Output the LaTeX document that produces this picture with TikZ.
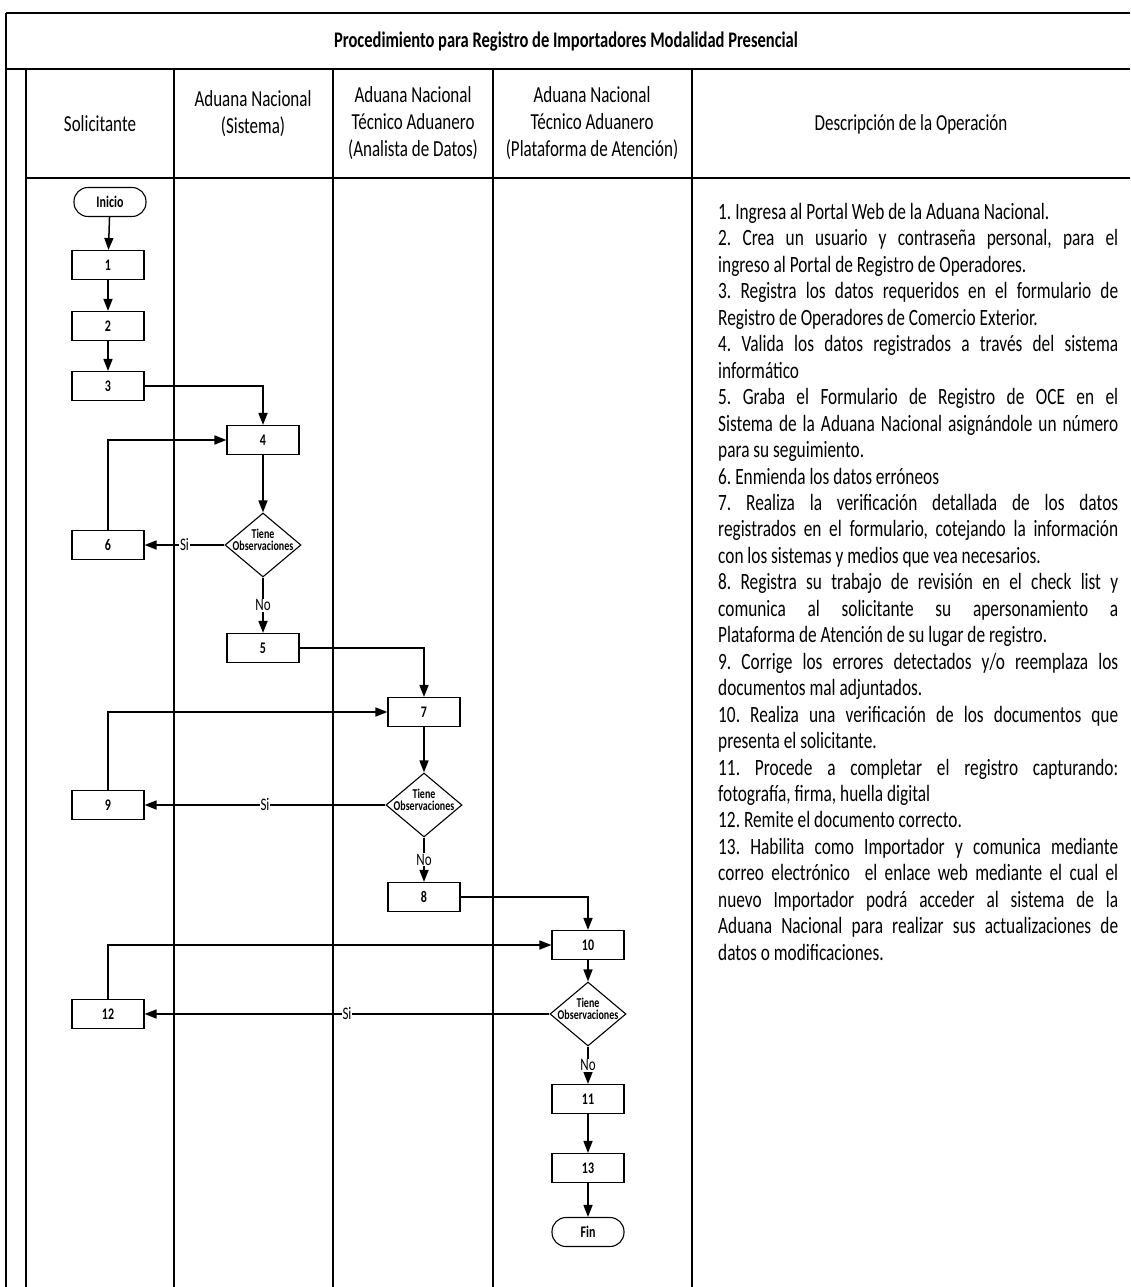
\documentclass[tikz,border=0pt]{standalone}
\usepackage{fontspec}
\setmainfont{Carlito}
\usepackage{graphicx}
\usetikzlibrary{shapes.geometric,arrows.meta}
\frenchspacing
\newcommand{\vs}[1]{\scalebox{1}[1.35]{#1}}
\newcommand{\djust}[1]{\noindent\makebox[\linewidth][s]{#1}\par}
\newcommand{\dlast}[1]{\noindent\makebox[\linewidth][l]{#1}\par}
\newcommand{\dtext}{\makebox[0pt]{\smash{\vs{\begin{tabular}{@{}c@{}}Tiene\\[-2pt]Observaciones\end{tabular}}}}}
\begin{document}
\begin{tikzpicture}[x=1pt,y=-1pt,
 grid/.style={line width=1.3pt},
 boxn/.style={draw,line width=1.1pt,minimum width=72pt,minimum height=29pt,inner sep=0pt,font=\fontsize{12}{14}\selectfont\bfseries},
 term/.style={boxn,rounded corners=14pt},
 dec/.style={draw,diamond,line width=1.1pt,minimum width=76pt,minimum height=64pt,inner sep=0pt,font=\fontsize{10}{11}\selectfont\bfseries},
 arr/.style={line width=1.5pt,-{Triangle[length=12pt,width=9pt]}},
 lbl/.style={fill=white,inner sep=1pt,font=\fontsize{13}{15}\selectfont},
 head/.style={inner sep=0pt,font=\fontsize{17}{20}\selectfont}]
\useasboundingbox (0,0) rectangle (1130,1287);
\fill[white] (0,0) rectangle (1130,1287);
% table
\draw[grid] (6,13) -- (1130,13);
\draw[grid] (6,13) -- (6,1287);
\draw[grid] (6,69) -- (1130,69);
\draw[grid] (26,69) -- (26,1287);
\draw[grid] (26,178) -- (1130,178);
\foreach \c in {174,333,493,692} \draw[grid] (\c,69) -- (\c,1287);
\node[inner sep=0pt] (title) at (566,42) {\vs{\fontsize{16.5}{20}\selectfont\bfseries Procedimiento para Registro de Importadores Modalidad Presencial}};
\node[head] (h1) at (100,124) {\vs{Solicitante}};
\node[head] (h2) at (253,115) {\vs{\begin{tabular}{@{}c@{}}Aduana Nacional\\(Sistema)\end{tabular}}};
\node[head] (h3) at (413,124) {\vs{\begin{tabular}{@{}c@{}}Aduana Nacional\\Técnico Aduanero\\(Analista de Datos)\end{tabular}}};
\node[head] (h4) at (592,124) {\vs{\begin{tabular}{@{}c@{}}Aduana Nacional\\Técnico Aduanero\\(Plataforma de Atención)\end{tabular}}};
\node[head] (h5) at (911,124) {\vs{Descripción de la Operación}};
% flow
\node[term] (start) at (110,202) {\vs{Inicio}};
\node[boxn] (b1) at (108,265) {\vs{1}};
\node[boxn] (b2) at (108,326) {\vs{2}};
\node[boxn] (b3) at (108,386) {\vs{3}};
\node[boxn] (b4) at (263,440) {\vs{4}};
\node[dec] (d1) at (263,545) {\dtext};
\node[boxn] (b6) at (108,545) {\vs{6}};
\node[boxn] (b5) at (263,648) {\vs{5}};
\node[boxn] (b7) at (424,712) {\vs{7}};
\node[dec] (d2) at (424,805) {\dtext};
\node[boxn] (b9) at (108,805) {\vs{9}};
\node[boxn] (b8) at (424,897) {\vs{8}};
\node[boxn] (b10) at (588,945) {\vs{10}};
\node[dec] (d3) at (588,1014) {\dtext};
\node[boxn] (b12) at (108,1014) {\vs{12}};
\node[boxn] (b11) at (588,1099) {\vs{11}};
\node[boxn] (b13) at (588,1168) {\vs{13}};
\node[term] (fin) at (588,1232) {\vs{Fin}};
\draw[arr] (start) -- (b1);
\draw[arr] (b1) -- (b2);
\draw[arr] (b2) -- (b3);
\draw[arr] (b3.east) -| (b4.north);
\draw[arr] (b6.north) |- (b4.west);
\draw[arr] (b4) -- (d1);
\draw[arr] (d1.west) -- node[lbl]{\vs{Si}} (b6.east);
\draw[arr] (d1.south) -- node[lbl]{\vs{No}} (b5.north);
\draw[arr] (b5.east) -| (b7.north);
\draw[arr] (b9.north) |- (b7.west);
\draw[arr] (b7) -- (d2);
\draw[arr] (d2.west) -- node[lbl]{\vs{Si}} (b9.east);
\draw[arr] (d2.south) -- node[lbl]{\vs{No}} (b8.north);
\draw[arr] (b8.east) -| (b10.north);
\draw[arr] (b12.north) |- (b10.west);
\draw[arr] (b10) -- (d3);
\draw[arr] (d3.west) -- node[lbl]{\vs{Si}} (b12.east);
\draw[arr] (d3.south) -- node[lbl]{\vs{No}} (b11.north);
\draw[arr] (b11) -- (b13);
\draw[arr] (b13) -- (fin);
% description
\node[anchor=north west,inner sep=0pt] (desc) at (718,203) {\vs{\parbox[t]{400pt}{\fontsize{17.3}{19.6}\selectfont
\dlast{1. Ingresa al Portal Web de la Aduana Nacional.}
\djust{2. Crea un usuario y contraseña personal, para el}
\dlast{ingreso al Portal de Registro de Operadores.}
\djust{3. Registra los datos requeridos en el formulario de}
\dlast{Registro de Operadores de Comercio Exterior.}
\djust{4. Valida los datos registrados a través del sistema}
\dlast{informático}
\djust{5. Graba el Formulario de Registro de OCE en el}
\djust{Sistema de la Aduana Nacional asignándole un número}
\dlast{para su seguimiento.}
\dlast{6. Enmienda los datos erróneos}
\djust{7. Realiza la verificación detallada de los datos}
\djust{registrados en el formulario, cotejando la información}
\dlast{con los sistemas y medios que vea necesarios.}
\djust{8. Registra su trabajo de revisión en el check list y}
\djust{comunica al solicitante su apersonamiento a}
\dlast{Plataforma de Atención de su lugar de registro.}
\djust{9. Corrige los errores detectados y/o reemplaza los}
\dlast{documentos mal adjuntados.}
\djust{10. Realiza una verificación de los documentos que}
\dlast{presenta el solicitante.}
\djust{11. Procede a completar el registro capturando:}
\dlast{fotografía, firma, huella digital}
\dlast{12. Remite el documento correcto.}
\djust{13. Habilita como Importador y comunica mediante}
\djust{correo electrónico\ \ el enlace web mediante el cual el}
\djust{nuevo Importador podrá acceder al sistema de la}
\djust{Aduana Nacional para realizar sus actualizaciones de}
\dlast{datos o modificaciones.}
}}};
\end{tikzpicture}
\end{document}
